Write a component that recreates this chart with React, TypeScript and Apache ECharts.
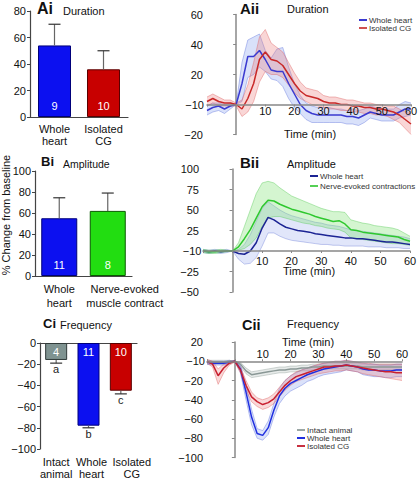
import React, { useEffect, useRef } from 'react';
import * as echarts from 'echarts';

const FONT = '"Liberation Sans", Arial, Helvetica, sans-serif';

// ---------- Ai: Duration (bar) ----------
const durationCats = ['Whole\nheart', 'Isolated\nCG'];
const durationMean = [54, 36];
const durationErr = [70, 50];
const durationN = ['9', '10'];

// ---------- Bi: Amplitude (bar) ----------
const amplitudeCats = ['Whole\nheart', 'Nerve-evoked\nmuscle contract'];
const amplitudeMean = [55, 62];
const amplitudeErr = [74.5, 79];
const amplitudeN = ['11', '8'];

// ---------- Ci: Frequency (bar) ----------
const frequencyCats = ['Intact\nanimal', 'Whole\nheart', 'Isolated\nCG'];
const frequencyMean = [-16, -78, -45];
const frequencyErr = [-19, -80, -48];
const frequencyN = ['4', '11', '10'];
const frequencyLetters = ['a', 'b', 'c'];

// ---------- time axis (min) ----------
const timeMin = [-10, -8, -6, -4, -2, 0, 2, 4, 6, 8, 10, 12, 14, 16, 18, 20, 22, 24, 26, 28, 30, 32, 34, 36, 38, 40, 42, 44, 46, 48, 50, 52, 54, 56, 58, 60];

// ---------- Aii: Duration time course ----------
const aWholeMean = [-4, -2, -1, -3, -1, 0, 14, 32, 32, 36, 30, 23, 22, 22, 14, 7, 0, -4, -6, -7, -7, -7, -7, -7, -8, -8, -9, -7, -5, -6, -7, -7, -7, -5, -3, -3];
const aWholeUpper = [-1, 1, 1, 0, 1, 0, 28, 43, 45, 47, 36, 31, 37, 38, 25, 14, 6, 1, -1, -2, -2, -2, -3, -3, -4, -3, -4, -3, -1, -2, -3, -3, -3, 0, 2, 1];
const aWholeLower = [-7, -5, -4, -6, -3, 0, 2, 18, 20, 25, 22, 17, 16, 12, 4, -2, -6, -10, -12, -12, -12, -12, -12, -12, -13, -13, -14, -12, -9, -10, -11, -11, -11, -9, -8, -7];
const aIsoMean = [2, 4, 2, 1, 1, 0, -3, 4, 14, 30, 35, 30, 29, 26, 20, 14, 9, 6, 5, 4, 2, 1, 1, 0, 0, -1, -1, -2, -2, -3, -3, -4, -5, -7, -10, -13];
const aIsoUpper = [5, 7, 5, 3, 3, 1, 3, 13, 28, 45, 50, 41, 38, 35, 28, 21, 15, 11, 10, 9, 6, 5, 5, 4, 3, 3, 2, 1, 1, 0, 0, -1, -1, -3, -5, -6];
const aIsoLower = [-1, 1, -1, -1, -1, -1, -8, -5, 2, 15, 22, 20, 20, 18, 13, 8, 4, 2, 0, -1, -2, -3, -3, -4, -4, -5, -5, -6, -6, -7, -7, -8, -10, -12, -16, -20];

// ---------- Bii: Amplitude time course ----------
const bWholeMean = [0, -1, 0, -1, 0, 0, -3, -4, 0, 10, 28, 41, 38, 33, 29, 27, 25, 24, 23, 21, 20, 19, 18, 17, 16, 16, 15, 15, 14, 13, 12, 11, 11, 10, 9, 8];
const bWholeUpper = [2, 1, 2, 1, 2, 0, 2, 8, 20, 36, 52, 60, 55, 50, 46, 43, 41, 39, 37, 35, 34, 32, 31, 30, 28, 26, 25, 24, 23, 22, 21, 20, 19, 18, 17, 15];
const bWholeLower = [-2, -3, -2, -3, -2, 0, -10, -16, -15, -8, 6, 22, 22, 18, 15, 13, 12, 11, 10, 9, 8, 8, 7, 7, 6, 6, 6, 6, 5, 5, 5, 4, 4, 4, 3, 3];
const bNerveMean = [0, -1, -1, 0, 0, 0, 5, 15, 26, 40, 54, 62, 61, 57, 54, 51, 49, 47, 45, 42, 40, 38, 36, 37, 33, 26, 25, 23, 22, 21, 20, 19, 18, 17, 14, 12];
const bNerveUpper = [2, 1, 1, 2, 1, 0, 10, 30, 50, 70, 83, 85, 83, 77, 72, 67, 64, 61, 58, 55, 52, 50, 48, 48, 47, 38, 36, 34, 33, 31, 30, 29, 28, 26, 22, 18];
const bNerveLower = [-2, -3, -3, -2, -1, 0, 1, 3, 8, 16, 30, 40, 42, 42, 40, 38, 36, 34, 33, 31, 30, 28, 27, 26, 23, 16, 15, 14, 13, 12, 11, 10, 9, 9, 8, 7];

// ---------- Cii: Frequency time course ----------
const cIntactMean = [-1, -1, -1, -1, 0, 0, -3, -10, -14, -13, -12, -11, -10, -9, -9, -8, -8, -7, -7, -6, -6, -5, -5, -5, -5, -5, -5, -5, -6, -6, -6, -6, -6, -6, -6, -6];
const cIntactUpper = [1, 1, 1, 1, 1, 0, -1, -7, -11, -10, -9, -8, -7, -6, -6, -5, -5, -4, -4, -3, -3, -2, -2, -2, -2, -2, -2, -2, -3, -3, -3, -3, -3, -3, -3, -3];
const cIntactLower = [-3, -3, -3, -3, -2, 0, -5, -13, -17, -16, -15, -14, -13, -12, -12, -11, -11, -10, -10, -9, -9, -8, -8, -8, -8, -8, -8, -8, -9, -9, -9, -9, -9, -9, -9, -9];
const cWholeMean = [-1, -2, -2, -2, -1, 0, -8, -32, -58, -75, -77, -69, -51, -36, -28, -23, -20, -17, -14, -12, -10, -8, -7, -6, -5, -4, -5, -6, -8, -9, -9, -10, -10, -10, -9, -9];
const cWholeUpper = [1, 0, 0, 0, 1, 0, -4, -24, -50, -70, -72, -62, -44, -28, -20, -15, -12, -9, -7, -5, -4, -2, -1, 0, 0, 1, 0, -1, -2, -3, -3, -4, -4, -4, -3, -3];
const cWholeLower = [-3, -4, -4, -4, -3, 0, -12, -40, -66, -80, -82, -76, -58, -44, -36, -31, -28, -25, -21, -19, -16, -14, -13, -12, -11, -9, -10, -11, -14, -15, -16, -16, -17, -17, -16, -16];
const cIsoMean = [0, -3, -15, -7, -2, 0, -9, -25, -37, -42, -45, -43, -39, -32, -25, -20, -16, -14, -12, -10, -8, -6, -6, -5, -5, -4, -5, -6, -7, -8, -9, -10, -11, -11, -12, -12];
const cIsoUpper = [2, 0, -8, -3, 0, 1, -6, -20, -32, -38, -40, -38, -34, -27, -20, -15, -11, -9, -7, -5, -3, -2, -1, 0, 0, 1, 0, -1, -2, -2, -3, -3, -3, -3, -3, -3];
const cIsoLower = [-2, -6, -24, -12, -4, -1, -12, -30, -42, -47, -50, -48, -44, -37, -30, -25, -21, -19, -17, -15, -13, -12, -11, -10, -10, -9, -10, -11, -13, -14, -15, -16, -17, -18, -19, -20];

// y-axis ranges of the time-course panels
const aRange = { min: -20, max: 60, interval: 20 };
const bRange = { min: -50, max: 100, interval: 25 };
const cRange = { min: -100, max: 20, interval: 20 };

const minus = (v: number) => (v < 0 ? '\u2212' + Math.abs(v) : String(v));

function band(xi: number, yi: number, lower: number[], upper: number[], fill: string, edge: string): any {
  return {
    type: 'custom', xAxisIndex: xi, yAxisIndex: yi, silent: true, z: 1,
    data: timeMin.map((t, i) => [t, lower[i], upper[i]]),
    encode: { x: 0, y: [1, 2] },
    renderItem: (params: any, api: any) => {
      if (params.dataIndex !== 0) return null;
      const up = timeMin.map((t, i) => api.coord([t, upper[i]]));
      const lo = timeMin.map((t, i) => api.coord([t, lower[i]]));
      return {
        type: 'group',
        children: [
          { type: 'polygon', shape: { points: up.concat(lo.slice().reverse()) }, style: { fill, stroke: null } },
          { type: 'polyline', shape: { points: up }, style: { stroke: edge, lineWidth: 0.8, fill: null } },
          { type: 'polyline', shape: { points: lo }, style: { stroke: edge, lineWidth: 0.8, fill: null } },
        ],
      };
    },
  };
}

function meanLine(name: string, xi: number, yi: number, mean: number[], color: string, width = 1.5): any {
  return {
    type: 'line', name, xAxisIndex: xi, yAxisIndex: yi, symbol: 'none', z: 3,
    data: timeMin.map((t, i) => [t, mean[i]]),
    lineStyle: { color, width }, itemStyle: { color },
  };
}

function errRender(letters?: string[]) {
  return (params: any, api: any) => {
    const i = api.value(0);
    const base = api.coord([i, api.value(1)]);
    const tip = api.coord([i, api.value(2)]);
    const children: any[] = [
      { type: 'line', shape: { x1: base[0], y1: base[1], x2: tip[0], y2: tip[1] }, style: { stroke: '#666', lineWidth: 1.2 } },
      { type: 'line', shape: { x1: tip[0] - 6, y1: tip[1], x2: tip[0] + 6, y2: tip[1] }, style: { stroke: '#333', lineWidth: 1.2 } },
    ];
    if (letters) {
      children.push({
        type: 'text', x: tip[0], y: tip[1] + 0.5,
        style: { text: letters[params.dataIndex], fontSize: 11, fill: '#222', align: 'center', verticalAlign: 'top', fontFamily: FONT },
      });
    }
    return { type: 'group', children };
  };
}

const barAxisLabel = { fontSize: 11, color: '#111', fontFamily: FONT, lineHeight: 12, margin: 6, interval: 0 };
const axisLineDark = { lineStyle: { color: '#444', width: 1.2 } };
const tsLine = { lineStyle: { color: '#888', width: 1.5 } };

function catAxis(grid: number, data: string[], extra: any = {}): any {
  return {
    type: 'category', gridIndex: grid, data,
    axisLine: { ...axisLineDark, onZero: false },
    axisTick: { alignWithLabel: true, length: 3, lineStyle: { color: '#444' } },
    axisLabel: { ...barAxisLabel },
    ...extra,
  };
}

function barYAxis(grid: number, min: number, max: number): any {
  return {
    type: 'value', gridIndex: grid, min, max, interval: 20,
    splitLine: { show: false },
    axisLine: { show: true, ...axisLineDark },
    axisTick: { show: true, length: 3, lineStyle: { color: '#444' } },
    axisLabel: { fontSize: 11, color: '#111', fontFamily: FONT, margin: 4, formatter: (v: number) => minus(v) },
  };
}

// hidden data x-axis of a time-course panel (scale only)
function tsDataXAxis(grid: number): any {
  return { type: 'value', gridIndex: grid, min: -10, max: 60, interval: 10, show: false };
}

// visible time axis, drawn in a thin grid that sits on the zero line
function tsTimeAxis(grid: number, position: string, margin: number): any {
  return {
    type: 'value', gridIndex: grid, min: -10, max: 60, interval: 10, position, z: 5,
    splitLine: { show: false },
    axisLine: { onZero: false, ...tsLine },
    axisTick: { show: true, length: 2, lineStyle: { color: '#888' } },
    axisLabel: { fontSize: 11, color: '#111', fontFamily: FONT, margin, formatter: (v: number) => (v <= 0 ? '' : String(v)) },
  };
}

function tsYAxis(grid: number, r: { min: number; max: number; interval: number }): any {
  return {
    type: 'value', gridIndex: grid, min: r.min, max: r.max, interval: r.interval,
    splitLine: { show: false },
    axisLine: { show: true, onZero: true, ...tsLine },
    axisTick: { show: true, length: 3, lineStyle: { color: '#888' } },
    axisLabel: { fontSize: 11, color: '#111', fontFamily: FONT, margin: 4, formatter: (v: number) => (v === 0 ? '' : minus(v)) },
  };
}

const BLUE = '#0c10f0', BLUE_B = '#00007a';
const RED = '#c80000', RED_B = '#5a0000';
const GREEN = '#22dd11', GREEN_B = '#0a5a00';
const GRAY = '#7f9391', GRAY_B = '#303a39';

function barItems(vals: number[], colors: string[], borders: string[]) {
  return vals.map((v, i) => ({ value: v, itemStyle: { color: colors[i], borderColor: borders[i], borderWidth: 1 } }));
}

function titleItem(text: string, left: number, top: number, size: number, bold: boolean): any {
  return {
    text, left, top, padding: 0,
    textStyle: { fontFamily: FONT, fontSize: size, fontWeight: bold ? 'bold' : 'normal', color: '#111' },
  };
}

function legendItem(left: number, top: number, gap: number, items: { name: string; color: string }[]): any {
  return {
    left, top, orient: 'vertical', itemWidth: 8, itemHeight: 2, itemGap: gap, icon: 'rect',
    selectedMode: false, padding: 0,
    textStyle: { fontSize: 8, color: '#333', fontFamily: FONT, padding: [0, 0, 0, -3] },
    data: items.map((it) => ({ name: it.name, itemStyle: { color: it.color }, lineStyle: { color: it.color } })),
  };
}

function gText(text: string, x: number, y: number, align = 'right'): any {
  return { type: 'text', x, y, z: 10, style: { text, fontSize: 11, fill: '#111', align, verticalAlign: 'middle', fontFamily: FONT } };
}

const gridBase = { containLabel: false, outerBoundsMode: 'none' };

// time-course plot areas
const aRect = { left: 207, top: 14.5, width: 204, height: 120 };
const bRect = { left: 203, top: 169, width: 207, height: 123 };
const cRect = { left: 207, top: 342, width: 195, height: 115.5 };
const zeroY = (rect: { top: number; height: number }, r: { min: number; max: number }) => rect.top + (rect.height * r.max) / (r.max - r.min);
const aZero = zeroY(aRect, aRange);
const bZero = zeroY(bRect, bRange);
const cZero = zeroY(cRect, cRange);

export default function App() {
  const ref = useRef<HTMLDivElement>(null);
  useEffect(() => {
    document.body.style.margin = '0';
    if (!ref.current) return;
    const chart = echarts.init(ref.current, undefined, { renderer: 'svg' });
    const option: any = {
      animation: false,
      textStyle: { fontFamily: FONT },
      title: [
        titleItem('Ai', 37, 0, 16, true), titleItem('Duration', 63, 5, 11, false),
        titleItem('Aii', 240, 1, 15, true), titleItem('Duration', 287, 3, 11, false),
        titleItem('Bi', 41, 155, 13, true), titleItem('Amplitude', 63, 158, 10.5, false),
        titleItem('Bii', 240, 155, 15, true), titleItem('Amplitude', 287, 158, 11, false),
        titleItem('Ci', 43, 317, 13, true), titleItem('Frequency', 60, 319, 11, false),
        titleItem('Cii', 242, 317, 14.5, true), titleItem('Frequency', 287, 318, 11, false),
      ],
      legend: [
        legendItem(359, 16, 0, [{ name: 'Whole heart', color: '#3a3ad0' }, { name: 'Isolated CG', color: '#d05050' }]),
        legendItem(310, 172, 2, [{ name: 'Whole heart', color: '#1c2494' }, { name: 'Nerve-evoked contractions', color: '#55d055' }]),
        legendItem(297, 426, 0, [{ name: 'Intact animal', color: '#9aa6a4' }, { name: 'Whole heart', color: '#2030e0' }, { name: 'Isolated CG', color: '#c83040' }]),
      ],
      grid: [
        { ...gridBase, left: 30, top: 11, width: 98, height: 106 },
        { ...gridBase, left: 35, top: 171, width: 97, height: 105 },
        { ...gridBase, left: 40, top: 343, width: 97, height: 106 },
        { ...gridBase, ...aRect },
        { ...gridBase, ...bRect },
        { ...gridBase, ...cRect },
        // thin grids carrying the time axes on the zero lines
        { ...gridBase, left: aRect.left, width: aRect.width, top: aZero - 1, height: 1 },
        { ...gridBase, left: bRect.left, width: bRect.width, top: bZero - 1, height: 1 },
        { ...gridBase, left: cRect.left, width: cRect.width, top: cZero, height: 1 },
      ],
      xAxis: [
        catAxis(0, durationCats),
        catAxis(1, amplitudeCats, {
          axisLabel: {
            ...barAxisLabel, lineHeight: 14,
            formatter: (v: string, i: number) => (i === 1 ? v.split('\n').map((s) => '{s|' + s + '}').join('\n') : v),
            rich: { s: { fontSize: 11, color: '#111', fontFamily: FONT, lineHeight: 14, padding: [0, 0, 0, 34] } },
          },
        }),
        catAxis(2, frequencyCats, {
          axisLine: { show: false, onZero: false },
          axisTick: { show: false },
          axisLabel: {
            ...barAxisLabel, margin: 7,
            formatter: (v: string, i: number) => (i > 0 ? v.split('\n').map((s) => '{s' + i + '|' + s + '}').join('\n') : v),
            rich: {
              s1: { fontSize: 11, color: '#111', fontFamily: FONT, lineHeight: 12, padding: [0, 0, 0, 6] },
              s2: { fontSize: 11, color: '#111', fontFamily: FONT, lineHeight: 12, padding: [0, 0, 0, 22] },
            },
          },
        }),
        catAxis(2, frequencyCats, { position: 'top', axisTick: { show: false }, axisLabel: { show: false } }),
        tsDataXAxis(3),
        tsDataXAxis(4),
        tsDataXAxis(5),
        tsTimeAxis(6, 'bottom', 1),
        tsTimeAxis(7, 'bottom', 4),
        tsTimeAxis(8, 'top', 2),
      ],
      yAxis: [
        barYAxis(0, 0, 80),
        barYAxis(1, 0, 100),
        barYAxis(2, -100, 0),
        tsYAxis(3, aRange),
        tsYAxis(4, bRange),
        tsYAxis(5, cRange),
        { type: 'value', gridIndex: 6, show: false },
        { type: 'value', gridIndex: 7, show: false },
        { type: 'value', gridIndex: 8, show: false },
      ],
      graphic: [
        gText('\u221210', 204, aZero),
        gText('\u221210', 201.5, bZero),
        gText('\u221210', 205, cZero),
        gText('Time (min)', 310, 134, 'center'),
        gText('Time (min)', 309, 271, 'center'),
        gText('Time (min)', 308, 341.5, 'center'),
        { type: 'text', x: 6, y: 215, rotation: Math.PI / 2, style: { text: '% Change from baseline', fontSize: 11, fill: '#111', align: 'center', verticalAlign: 'middle', fontFamily: FONT } },
      ],
      series: [
        // Ai
        {
          type: 'bar', xAxisIndex: 0, yAxisIndex: 0, barWidth: 33,
          data: barItems(durationMean, [BLUE, RED], [BLUE_B, RED_B]),
          label: { show: true, position: 'insideBottom', distance: 6, color: '#fff', fontSize: 11, fontFamily: FONT, formatter: (p: any) => durationN[p.dataIndex] },
        },
        { type: 'custom', xAxisIndex: 0, yAxisIndex: 0, renderItem: errRender(), encode: { x: 0, y: [1, 2] }, data: durationMean.map((m, i) => [i, m, durationErr[i]]), z: 3 },
        // Bi
        {
          type: 'bar', xAxisIndex: 1, yAxisIndex: 1, barWidth: 36,
          data: barItems(amplitudeMean, [BLUE, GREEN], [BLUE_B, GREEN_B]),
          label: { show: true, position: 'insideBottom', distance: 6, color: '#fff', fontSize: 11, fontFamily: FONT, formatter: (p: any) => amplitudeN[p.dataIndex] },
        },
        { type: 'custom', xAxisIndex: 1, yAxisIndex: 1, renderItem: errRender(), encode: { x: 0, y: [1, 2] }, data: amplitudeMean.map((m, i) => [i, m, amplitudeErr[i]]), z: 3 },
        // Ci
        {
          type: 'bar', xAxisIndex: 2, yAxisIndex: 2, barWidth: 22,
          data: barItems(frequencyMean, [GRAY, BLUE, RED], [GRAY_B, BLUE_B, RED_B]),
          label: { show: true, position: 'insideTop', distance: 3, color: '#fff', fontSize: 11, fontFamily: FONT, formatter: (p: any) => frequencyN[p.dataIndex] },
        },
        { type: 'custom', xAxisIndex: 2, yAxisIndex: 2, renderItem: errRender(frequencyLetters), encode: { x: 0, y: [1, 2] }, data: frequencyMean.map((m, i) => [i, m, frequencyErr[i]]), z: 3 },
        // Aii
        band(4, 3, aWholeLower, aWholeUpper, 'rgba(110,140,235,0.26)', 'rgba(90,110,220,0.5)'),
        band(4, 3, aIsoLower, aIsoUpper, 'rgba(235,120,120,0.3)', 'rgba(220,90,90,0.5)'),
        meanLine('Whole heart', 4, 3, aWholeMean, '#3a3ad0'),
        meanLine('Isolated CG', 4, 3, aIsoMean, '#c82828'),
        // Bii
        band(5, 4, bWholeLower, bWholeUpper, 'rgba(120,140,230,0.22)', 'rgba(90,110,210,0.45)'),
        band(5, 4, bNerveLower, bNerveUpper, 'rgba(120,225,110,0.32)', 'rgba(80,200,80,0.5)'),
        meanLine('Whole heart', 5, 4, bWholeMean, '#1c2494'),
        meanLine('Nerve-evoked contractions', 5, 4, bNerveMean, '#2ec82e'),
        // Cii
        band(6, 5, cIntactLower, cIntactUpper, 'rgba(160,175,172,0.25)', 'rgba(140,155,150,0.5)'),
        band(6, 5, cWholeLower, cWholeUpper, 'rgba(110,140,235,0.25)', 'rgba(90,110,220,0.5)'),
        band(6, 5, cIsoLower, cIsoUpper, 'rgba(235,120,120,0.28)', 'rgba(220,90,90,0.5)'),
        meanLine('Intact animal', 6, 5, cIntactMean, '#8a9896'),
        meanLine('Whole heart', 6, 5, cWholeMean, '#2030e0'),
        meanLine('Isolated CG', 6, 5, cIsoMean, '#c82030'),
      ],
    };
    chart.setOption(option);
    return () => chart.dispose();
  }, []);
  return <div ref={ref} style={{ width: 420, height: 480 }} />;
}
